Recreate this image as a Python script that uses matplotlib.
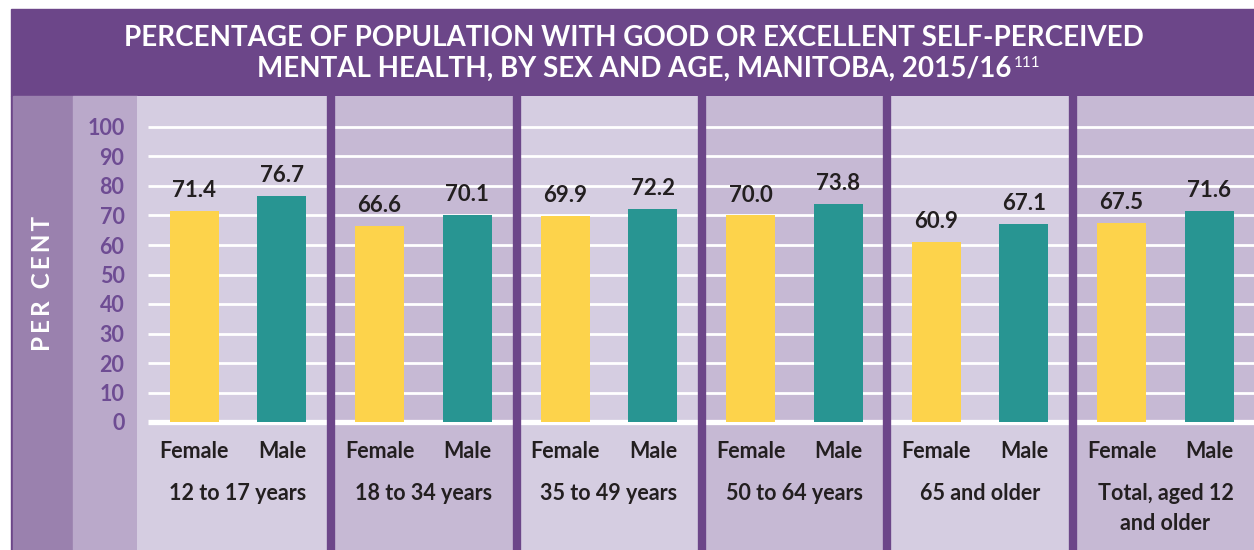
import matplotlib.pyplot as plt
from matplotlib.patches import Rectangle

# data
groups = ["12 to 17 years", "18 to 34 years", "35 to 49 years",
          "50 to 64 years", "65 and older", "Total, aged 12\nand older"]
sexes = ["Female", "Male"]
female = [71.4, 66.6, 69.9, 70.0, 60.9, 67.5]
male = [76.7, 70.1, 72.2, 73.8, 67.1, 71.6]
yticks = list(range(0, 101, 10))

PURPLE = "#6c4689"
LIGHT = "#d5cde1"
DARK = "#c6b9d4"
COL_A = "#9a81ae"
COL_B = "#baa9ca"
YELLOW = "#fdd34b"
TEAL = "#289592"
INK = "#231f20"
TICK = "#6e4c93"

plt.rcParams['font.family'] = ['Lato', 'DejaVu Sans']

W, H = 1254, 550
fig = plt.figure(figsize=(W / 100, H / 100), dpi=100)

# background layer in pixel coordinates
bg = fig.add_axes([0, 0, 1, 1])
bg.set_xlim(0, W)
bg.set_ylim(H, 0)
bg.axis('off')
bg.add_patch(Rectangle((11, 9), W - 11, 87, color=PURPLE))
bg.add_patch(Rectangle((11, 96), 2, H - 96, color=PURPLE))
bg.add_patch(Rectangle((13, 96), 60, H - 96, color=COL_A))
bg.add_patch(Rectangle((73, 96), 64, H - 96, color=COL_B))
bg.text(634, 38, "PERCENTAGE OF POPULATION WITH GOOD OR EXCELLENT SELF-PERCEIVED",
        color="white", fontsize=20, fontweight='bold', ha='center', va='center')
t2 = bg.text(634, 69, "MENTAL HEALTH, BY SEX AND AGE, MANITOBA, 2015/16",
             color="white", fontsize=20, fontweight='bold', ha='center', va='center')
bg.annotate("111", xy=(1, 1), xycoords=t2, xytext=(2, 0), textcoords='offset points',
            color="white", fontsize=11, ha='left', va='top')
bg.text(43, 283, "P\u2009E\u2009R\u2002C\u2009E\u2009N\u2009T", color="white",
        fontsize=17.5, fontweight='bold', rotation=90, ha='center', va='center')

# chart area: group k occupies x in [k, k+1]
left_px, top_px, zero_px, scale = 137, 96, 422, 2.95
ax = fig.add_axes([left_px / W, 0, 1 - left_px / W, (H - top_px) / H])
x0 = (left_px - 145.5) / 185.5
ax.set_xlim(x0, (W - 145.5) / 185.5)
ax.set_ylim((zero_px - H) / scale, (zero_px - top_px) / scale)
for s in ax.spines.values():
    s.set_visible(False)
ax.set_xticks([])
ax.set_yticks(yticks)
ax.tick_params(axis='y', length=0, pad=9, labelsize=15.5, labelcolor=TICK)
for lab in ax.get_yticklabels():
    lab.set_fontweight('bold')

n = len(groups)
for k in range(n):
    ax.axvspan(x0 if k == 0 else k, k + 1, color=LIGHT if k % 2 == 0 else DARK,
               lw=0, zorder=0)

gx0 = (148 - 145.5) / 185.5
ax.hlines(yticks[1:], gx0, n + 1, color="white", lw=2, zorder=1)
ax.hlines([0], gx0, n + 1, color="white", lw=3.8, zorder=1)
for k in range(1, n):
    ax.axvline(k, color=PURPLE, lw=6, zorder=3)

pos_f = [k + 0.262 for k in range(n)]
pos_m = [k + 0.735 for k in range(n)]
w = 0.265
ax.bar(pos_f, female, width=w, color=YELLOW, zorder=2)
ax.bar(pos_m, male, width=w, color=TEAL, zorder=2)

lab_off = 10 / scale
for xs, vals in ((pos_f, female), (pos_m, male)):
    for x, v in zip(xs, vals):
        ax.text(x, v + lab_off, f"{v:.1f}", ha='center', va='bottom',
                fontsize=16, fontweight='bold', color=INK)

sex_y = (zero_px - 451) / scale
grp_y = (zero_px - 483) / scale
for k in range(n):
    ax.text(pos_f[k], sex_y, sexes[0], ha='center', va='center',
            fontsize=15.5, fontweight='bold', color=INK)
    ax.text(pos_m[k], sex_y, sexes[1], ha='center', va='center',
            fontsize=15.5, fontweight='bold', color=INK)
    ax.text((pos_f[k] + pos_m[k]) / 2, grp_y, groups[k], ha='center', va='top',
            fontsize=15.5, fontweight='bold', color=INK, linespacing=1.5)

fig.savefig("out.png", dpi=100)
